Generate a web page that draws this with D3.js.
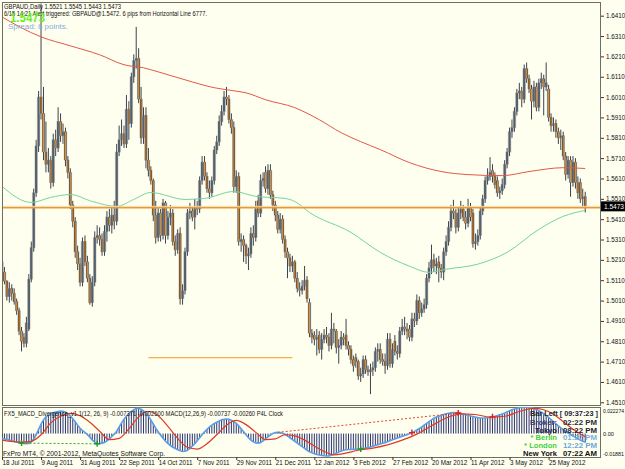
<!DOCTYPE html>
<html>
<head>
<meta charset="utf-8">
<script src="https://cdn.jsdelivr.net/npm/d3@7/dist/d3.min.js"></script>
<style>
  body { margin: 0; background: #fffff0; }
  svg { display: block; font-family: "Liberation Sans", Arial, sans-serif; }
</style>
</head>
<body>
<div id="container"></div>
<script>
// ---- data: GBPAUD daily, 18 Jul 2011 .. 15 Jun 2012 (bar index 0..239)
const opens = [1.5115,1.5150,1.5105,1.5030,1.5070,1.5045,1.5005,1.4960,1.4860,1.4830,1.4800,1.4870,1.5115,1.5270,1.5540,1.5770,1.6010,1.5930,1.5740,1.5680,
1.5700,1.5590,1.5800,1.5760,1.5890,1.5820,1.5840,1.5700,1.5640,1.5480,1.5400,1.5250,1.5190,1.5100,1.5300,1.5200,1.5120,1.5000,1.5100,1.5320,
1.5330,1.5310,1.5250,1.5350,1.5420,1.5380,1.5430,1.5400,1.5740,1.5800,1.5830,1.5780,1.5950,1.5880,1.6110,1.6190,1.6200,1.6000,1.5810,1.5920,
1.5700,1.5650,1.5600,1.5430,1.5320,1.5440,1.5330,1.5490,1.5330,1.5420,1.5440,1.5300,1.5260,1.5340,1.5020,1.5060,1.5250,1.5440,1.5450,1.5420,
1.5470,1.5460,1.5600,1.5690,1.5620,1.5560,1.5540,1.5600,1.5750,1.5790,1.5890,1.5940,1.6010,1.6000,1.5900,1.5860,1.5570,1.5620,1.5300,1.5310,
1.5280,1.5230,1.5240,1.5340,1.5320,1.5500,1.5440,1.5600,1.5640,1.5560,1.5650,1.5530,1.5480,1.5430,1.5360,1.5410,1.5310,1.5250,1.5220,1.5180,
1.5200,1.5120,1.5070,1.5060,1.5080,1.5110,1.5000,1.4850,1.4840,1.4820,1.4840,1.4770,1.4820,1.4840,1.4830,1.4790,1.4870,1.4860,1.4780,1.4790,
1.4830,1.4840,1.4790,1.4770,1.4720,1.4730,1.4710,1.4640,1.4650,1.4720,1.4670,1.4660,1.4670,1.4680,1.4760,1.4770,1.4720,1.4710,1.4690,1.4820,
1.4700,1.4810,1.4760,1.4750,1.4860,1.4880,1.4870,1.4870,1.4830,1.4920,1.4910,1.5010,1.4950,1.4970,1.4990,1.5120,1.5170,1.5210,1.5180,1.5200,
1.5170,1.5150,1.5250,1.5300,1.5370,1.5450,1.5440,1.5370,1.5440,1.5460,1.5420,1.5390,1.5470,1.5440,1.5290,1.5300,1.5330,1.5450,1.5510,1.5600,
1.5620,1.5650,1.5620,1.5600,1.5540,1.5550,1.5580,1.5680,1.5740,1.5840,1.5860,1.5940,1.6030,1.6040,1.6000,1.6150,1.6100,1.6050,1.5990,1.6060,
1.5960,1.6080,1.6100,1.6060,1.6050,1.5910,1.5870,1.5880,1.5840,1.5810,1.5820,1.5720,1.5630,1.5700,1.5590,1.5690,1.5590,1.5590,1.5510,1.5521];
const highs = [1.5215,1.5175,1.5110,1.5100,1.5090,1.5070,1.5020,1.4975,1.4880,1.4850,1.4930,1.5140,1.5300,1.5560,1.5800,1.6040,1.6470,1.6060,1.5890,1.5760,
1.5720,1.5830,1.5850,1.5960,1.5930,1.5880,1.5860,1.5720,1.5660,1.5500,1.5420,1.5280,1.5220,1.5320,1.5330,1.5230,1.5140,1.5130,1.5350,1.5380,
1.5370,1.5340,1.5380,1.5450,1.5460,1.5470,1.5500,1.5780,1.5870,1.5900,1.5870,1.6020,1.5990,1.6130,1.6220,1.6355,1.6250,1.6060,1.5960,1.5960,
1.5760,1.5670,1.5610,1.5500,1.5470,1.5460,1.5510,1.5500,1.5450,1.5480,1.5460,1.5330,1.5360,1.5370,1.5090,1.5270,1.5460,1.5490,1.5470,1.5510,
1.5500,1.5620,1.5720,1.5720,1.5640,1.5600,1.5620,1.5770,1.5820,1.5920,1.5970,1.6040,1.6060,1.6020,1.5930,1.5890,1.5650,1.5640,1.5340,1.5330,
1.5290,1.5270,1.5370,1.5380,1.5500,1.5530,1.5630,1.5640,1.5670,1.5680,1.5680,1.5550,1.5500,1.5450,1.5440,1.5430,1.5330,1.5270,1.5240,1.5230,
1.5210,1.5150,1.5100,1.5110,1.5180,1.5130,1.5020,1.4870,1.4860,1.4870,1.4860,1.4850,1.4870,1.4880,1.4850,1.4950,1.4900,1.4870,1.4820,1.4860,
1.4850,1.4920,1.4810,1.4790,1.4740,1.4750,1.4720,1.4680,1.4740,1.4740,1.4690,1.4700,1.4710,1.4780,1.4800,1.4800,1.4750,1.4750,1.4850,1.4850,
1.4800,1.4840,1.4790,1.4880,1.4920,1.4930,1.4900,1.4890,1.4950,1.4950,1.5040,1.5030,1.5000,1.5020,1.5140,1.5200,1.5285,1.5240,1.5220,1.5230,
1.5190,1.5270,1.5330,1.5400,1.5480,1.5505,1.5460,1.5470,1.5500,1.5480,1.5450,1.5510,1.5490,1.5460,1.5340,1.5360,1.5470,1.5530,1.5620,1.5660,
1.5715,1.5680,1.5640,1.5620,1.5570,1.5610,1.5700,1.5760,1.5860,1.5900,1.5960,1.6050,1.6080,1.6060,1.6170,1.6180,1.6120,1.6070,1.6090,1.6080,
1.6100,1.6130,1.6120,1.6180,1.6070,1.5930,1.5910,1.5900,1.5860,1.5850,1.5840,1.5740,1.5720,1.5720,1.5720,1.5710,1.5620,1.5610,1.5560,1.5545];
const lows = [1.5050,1.5090,1.5010,1.5000,1.5010,1.4990,1.4940,1.4840,1.4760,1.4780,1.4780,1.4860,1.5100,1.5250,1.5520,1.5740,1.5900,1.5700,1.5640,1.5640,
1.5560,1.5570,1.5720,1.5740,1.5790,1.5780,1.5670,1.5610,1.5460,1.5370,1.5220,1.5160,1.5080,1.5080,1.5180,1.5100,1.4990,1.4980,1.5080,1.5290,
1.5280,1.5230,1.5230,1.5300,1.5350,1.5340,1.5360,1.5380,1.5720,1.5770,1.5760,1.5760,1.5800,1.5860,1.6080,1.6150,1.5980,1.5780,1.5780,1.5660,
1.5620,1.5580,1.5400,1.5290,1.5300,1.5300,1.5310,1.5290,1.5310,1.5380,1.5280,1.5230,1.5240,1.4990,1.4990,1.5040,1.5230,1.5410,1.5400,1.5360,
1.5430,1.5440,1.5580,1.5600,1.5540,1.5510,1.5520,1.5580,1.5730,1.5770,1.5870,1.5920,1.5970,1.5880,1.5830,1.5540,1.5540,1.5280,1.5250,1.5200,
1.5190,1.5160,1.5220,1.5280,1.5300,1.5420,1.5420,1.5570,1.5540,1.5530,1.5510,1.5450,1.5400,1.5340,1.5340,1.5290,1.5220,1.5120,1.5150,1.5150,
1.5100,1.5050,1.5030,1.5040,1.5060,1.5000,1.4830,1.4800,1.4790,1.4740,1.4750,1.4720,1.4800,1.4800,1.4760,1.4770,1.4800,1.4750,1.4700,1.4770,
1.4790,1.4770,1.4740,1.4700,1.4660,1.4680,1.4620,1.4610,1.4630,1.4650,1.4640,1.4550,1.4640,1.4660,1.4710,1.4700,1.4690,1.4650,1.4670,1.4680,
1.4680,1.4740,1.4720,1.4730,1.4840,1.4840,1.4820,1.4810,1.4810,1.4880,1.4890,1.4920,1.4930,1.4950,1.4970,1.5100,1.5140,1.5150,1.5140,1.5100,
1.5120,1.5110,1.5230,1.5280,1.5350,1.5410,1.5340,1.5350,1.5410,1.5400,1.5360,1.5370,1.5400,1.5270,1.5260,1.5280,1.5310,1.5430,1.5490,1.5580,
1.5600,1.5590,1.5560,1.5520,1.5510,1.5530,1.5560,1.5660,1.5720,1.5810,1.5840,1.5920,1.6000,1.5960,1.5980,1.6080,1.6030,1.5900,1.5960,1.5940,
1.5940,1.6050,1.5920,1.6040,1.5890,1.5840,1.5840,1.5810,1.5780,1.5750,1.5700,1.5600,1.5610,1.5520,1.5570,1.5560,1.5510,1.5490,1.5470,1.5443];
const closes = [1.5200,1.5105,1.5030,1.5070,1.5045,1.5005,1.4960,1.4860,1.4810,1.4800,1.4900,1.5115,1.5270,1.5540,1.5770,1.6010,1.5930,1.5740,1.5680,1.5700,
1.5590,1.5800,1.5760,1.5890,1.5820,1.5840,1.5700,1.5640,1.5480,1.5400,1.5250,1.5190,1.5100,1.5300,1.5200,1.5120,1.5000,1.5100,1.5320,1.5330,
1.5310,1.5250,1.5350,1.5420,1.5380,1.5430,1.5400,1.5740,1.5800,1.5830,1.5780,1.5950,1.5880,1.6110,1.6190,1.6200,1.6000,1.5810,1.5920,1.5700,
1.5650,1.5600,1.5430,1.5320,1.5440,1.5330,1.5490,1.5330,1.5420,1.5440,1.5300,1.5260,1.5340,1.5020,1.5060,1.5250,1.5440,1.5450,1.5420,1.5470,
1.5460,1.5600,1.5690,1.5620,1.5560,1.5540,1.5600,1.5750,1.5790,1.5890,1.5940,1.6010,1.6000,1.5900,1.5860,1.5570,1.5620,1.5300,1.5310,1.5280,
1.5230,1.5240,1.5340,1.5320,1.5460,1.5440,1.5600,1.5610,1.5560,1.5650,1.5530,1.5480,1.5430,1.5360,1.5410,1.5310,1.5250,1.5220,1.5180,1.5200,
1.5120,1.5070,1.5060,1.5080,1.5110,1.5020,1.4850,1.4830,1.4820,1.4830,1.4770,1.4820,1.4840,1.4830,1.4790,1.4870,1.4860,1.4780,1.4790,1.4830,
1.4820,1.4790,1.4770,1.4720,1.4690,1.4710,1.4640,1.4650,1.4720,1.4670,1.4660,1.4670,1.4680,1.4760,1.4770,1.4720,1.4710,1.4690,1.4820,1.4700,
1.4770,1.4760,1.4750,1.4860,1.4880,1.4870,1.4860,1.4830,1.4920,1.4910,1.5010,1.4950,1.4970,1.4990,1.5120,1.5170,1.5210,1.5180,1.5190,1.5170,
1.5150,1.5250,1.5300,1.5370,1.5450,1.5440,1.5370,1.5440,1.5460,1.5420,1.5390,1.5470,1.5420,1.5290,1.5300,1.5330,1.5450,1.5510,1.5600,1.5620,
1.5640,1.5620,1.5580,1.5540,1.5550,1.5580,1.5680,1.5740,1.5840,1.5860,1.5940,1.6030,1.6040,1.6000,1.6150,1.6100,1.6050,1.5990,1.6060,1.5960,
1.6080,1.6100,1.6060,1.6080,1.5910,1.5870,1.5880,1.5840,1.5810,1.5820,1.5720,1.5630,1.5700,1.5590,1.5690,1.5590,1.5540,1.5510,1.5520,1.5473];

// moving averages, read at sample bars: [bar, price]
const maRed = [[0,1.6404],[8,1.6350],[16,1.6306],[28,1.6262],[40,1.6218],[50,1.6169],[58,1.6154],[64,1.6134],[75,1.6095],[87,1.6056],
  [95,1.6041],[100,1.6031],[108,1.5997],[120,1.5958],[130,1.5899],[139,1.5835],[147,1.5791],[155,1.5752],[167,1.5688],[180,1.5644],
  [191,1.5629],[205,1.5624],[216,1.5644],[230,1.5663],[239,1.5659]];
const maGreen = [[0,1.5571],[12,1.5492],[20,1.5517],[28,1.5531],[37,1.5497],[47,1.5473],[54,1.5507],[61,1.5541],[75,1.5507],[83,1.5512],
  [95,1.5546],[104,1.5522],[116,1.5512],[120,1.5497],[126,1.5443],[143,1.5345],[155,1.5247],[167,1.5179],[175,1.5149],[182,1.5164],
  [195,1.5189],[207,1.5247],[220,1.5360],[230,1.5424],[239,1.5453]];

const bidPrice = 1.5473;
const hLinePrice = 1.5466;
const lowLine = { from: 60, to: 119, price: 1.4729 };

// MACD(12,26,9) in units of 0.0001, one per bar
const macd = [-40,-45,-50,-55,-60,-65,-70,-76,-80,-83,-84,-82,-72,-45,-10,35,80,115,140,155,
165,175,180,185,188,186,180,170,150,125,100,70,45,25,10,-10,-30,-55,-72,-86,
-84,-80,-74,-62,-45,-25,-5,20,55,90,120,145,165,185,200,210,212,205,190,170,
145,115,80,45,15,-15,-40,-65,-85,-100,-115,-125,-135,-145,-150,-148,-140,-125,-105,-85,
-60,-35,-10,15,35,55,70,85,95,105,115,120,122,120,112,100,85,65,40,15,
-10,-35,-55,-70,-78,-80,-75,-62,-45,-28,-12,0,8,10,8,2,-8,-20,-35,-50,
-65,-80,-95,-110,-125,-140,-152,-162,-170,-176,-180,-184,-186,-188,-187,-182,-174,-165,-155,-146,
-140,-136,-134,-133,-132,-131,-130,-129,-126,-122,-117,-112,-106,-100,-94,-88,-82,-76,-68,-60,
-52,-45,-38,-30,-23,-16,-9,-2,8,18,30,42,55,70,85,100,115,128,138,146,
153,160,166,171,175,176,175,172,168,163,158,153,148,143,138,134,131,130,131,133,
136,140,145,151,158,165,173,182,191,199,206,212,217,220,222,222,220,216,210,202,
192,180,166,151,135,118,100,82,64,47,32,18,5,-8,-20,-32,-44,-55,-65,-74];
// signal line, read at sample bars: [bar, value*1e4]
const signal = [[0,-55],[8,-72],[12,-65],[16,-10],[20,90],[24,145],[28,170],[32,150],[36,95],[40,20],[44,-50],[48,-40],
  [52,40],[56,140],[60,185],[64,150],[68,60],[72,-40],[76,-115],[80,-130],[84,-85],[88,-10],[92,70],[96,110],[100,75],
  [104,10],[108,-50],[112,-45],[116,-10],[120,-20],[124,-55],[128,-105],[132,-150],[136,-178],[140,-168],[146,-140],
  [152,-122],[158,-95],[164,-55],[170,-5],[176,65],[182,130],[188,165],[194,160],[200,138],[206,145],[212,185],[218,212],
  [222,200],[226,162],[230,100],[234,36],[239,-26]];
const bullDivBars = [8, 39, 147];
const bearDivBars = [168, 187, 201];
const bullDivLines = [[8, 39]];
const bearDivLines = [[113, 187]];

const priceTicks = [1.6410,1.6310,1.6210,1.6110,1.6010,1.5910,1.5810,1.5710,1.5610,1.5510,
  1.5410,1.5310,1.5210,1.5110,1.5010,1.4910,1.4810,1.4710,1.4610,1.4510];
const macdTicks = [0.022274, 0, -0.01881];
const macdTickLabels = ["0.022274", "0.00", "-0.01881"];
const dateBars = [0,16,32,48,64,80,96,112,128,144,160,176,192,208,224];
const dateLabels = ["18 Jul 2011","9 Aug 2011","31 Aug 2011","22 Sep 2011","14 Oct 2011","7 Nov 2011","29 Nov 2011",
  "21 Dec 2011","12 Jan 2012","3 Feb 2012","27 Feb 2012","20 Mar 2012","11 Apr 2012","3 May 2012","25 May 2012"];

const clockRows = [
  { label: "Broker:", time: "02:22 PM", lc: "#3b3b6e", tc: "#2a2a40" },
  { label: "Tokyo", time: "08:22 PM", lc: "#1c1c48", tc: "#1c1c30" },
  { label: "* Berlin", time: "01:22 PM", lc: "#3fcf3f", tc: "#7aaee0" },
  { label: "* London", time: "12:22 PM", lc: "#3fcf3f", tc: "#6aa6e0" },
  { label: "New York", time: "07:22 AM", lc: "#111", tc: "#111" }
];

// ---- canvas
const width = 625, height = 469;
const svg = d3.select("#container").append("svg")
  .attr("width", width).attr("height", height);
svg.append("rect").attr("width", width).attr("height", height).attr("fill", "#fffff0");

const left = 2, right = 601, mainTop = 2, mainBottom = 405, subTop = 407, subBottom = 457;

// scales
const x = d3.scaleLinear().domain([0, 239]).range([2, 585.2]);
const y = d3.scaleLinear().domain([1.4510, 1.6410]).range([402.3, 15.7]);
const ym = d3.scaleLinear().domain([-0.01881, 0.022274]).range([subBottom - 1, subTop]);

const defs = svg.append("defs");
defs.append("clipPath").attr("id", "clipMain").append("rect")
  .attr("x", left).attr("y", mainTop).attr("width", right - left).attr("height", mainBottom - mainTop);
defs.append("clipPath").attr("id", "clipSub").append("rect")
  .attr("x", left).attr("y", subTop).attr("width", right - left).attr("height", subBottom - subTop);

// ---- main window
const gMain = svg.append("g").attr("clip-path", "url(#clipMain)");

const bars = closes.map((c, i) => ({ i: i, o: opens[i], h: highs[i], l: lows[i], c: c }));

const cg = gMain.selectAll("g.candle").data(bars).join("g").attr("class", "candle");
// light grey shadow behind each body
cg.append("rect")
  .attr("x", d => x(d.i) - 1.8).attr("width", 3.6)
  .attr("y", d => y(Math.max(d.o, d.c)) - 0.5)
  .attr("height", d => Math.max(1, Math.abs(y(d.o) - y(d.c))) + 1)
  .attr("fill", "#b6b8b2").attr("opacity", 0.6);
cg.append("line")
  .attr("x1", d => x(d.i)).attr("x2", d => x(d.i))
  .attr("y1", d => y(d.h)).attr("y2", d => y(d.l))
  .attr("stroke", "#3b424b").attr("stroke-width", 1);
cg.append("rect")
  .attr("x", d => x(d.i) - 1.1).attr("width", 2.2)
  .attr("y", d => y(Math.max(d.o, d.c)))
  .attr("height", d => Math.max(1, Math.abs(y(d.o) - y(d.c))))
  .attr("fill", d => d.c >= d.o ? "#56606c" : "#3a3632");
cg.filter(d => d.c < d.o).append("rect")
  .attr("x", d => x(d.i) - 0.5).attr("width", 1)
  .attr("y", d => y(d.o)).attr("height", d => Math.max(1, y(d.c) - y(d.o)))
  .attr("fill", "#ea9432");

const maLine = d3.line().x(d => x(d[0])).y(d => y(d[1])).curve(d3.curveMonotoneX);
gMain.append("path").datum(maRed).attr("d", maLine)
  .attr("fill", "none").attr("stroke", "#e2574a").attr("stroke-width", 1);
gMain.append("path").datum(maGreen).attr("d", maLine)
  .attr("fill", "none").attr("stroke", "#74d3a0").attr("stroke-width", 1);

// bid line + horizontal line objects
gMain.append("line").attr("x1", left).attr("x2", right)
  .attr("y1", y(bidPrice)).attr("y2", y(bidPrice))
  .attr("stroke", "#e6d9c0").attr("stroke-width", 1);
gMain.append("line").attr("x1", left).attr("x2", right)
  .attr("y1", y(hLinePrice)).attr("y2", y(hLinePrice))
  .attr("stroke", "#f39a1e").attr("stroke-width", 1.6);
gMain.append("line").attr("x1", x(lowLine.from)).attr("x2", x(lowLine.to))
  .attr("y1", y(lowLine.price)).attr("y2", y(lowLine.price))
  .attr("stroke", "#f39a1e").attr("stroke-width", 1);

// price axis
const yAxis = d3.axisRight(y).tickValues(priceTicks).tickFormat(d3.format(".4f")).tickSize(3);
const yg = svg.append("g").attr("transform", `translate(${right},0)`).call(yAxis);
yg.select(".domain").remove();
yg.selectAll("line").attr("stroke", "#333");
yg.selectAll("text").attr("x", 5).attr("font-size", 6.3).attr("fill", "#111")
  .attr("font-family", "'Liberation Sans', Arial, sans-serif");

// current price box
svg.append("rect").attr("x", right).attr("y", y(bidPrice) - 5).attr("width", 24).attr("height", 10).attr("fill", "#000");
svg.append("text").attr("x", right + 3).attr("y", y(bidPrice) + 2.4)
  .attr("font-size", 6.5).attr("fill", "#fff").text(d3.format(".4f")(bidPrice));

// frames
svg.append("rect").attr("x", left + 0.5).attr("y", mainTop + 0.5)
  .attr("width", right - left - 1).attr("height", mainBottom - mainTop)
  .attr("fill", "none").attr("stroke", "#6e6e62");
svg.append("rect").attr("x", left + 0.5).attr("y", subTop + 0.5)
  .attr("width", right - left - 1).attr("height", subBottom - subTop)
  .attr("fill", "none").attr("stroke", "#6e6e62");

// header texts
const head = svg.append("g").attr("font-family", "'Liberation Sans', Arial, sans-serif");
head.append("text").attr("x", 4).attr("y", 8.6).attr("font-size", 7).attr("fill", "#111")
  .attr("textLength", 117).attr("lengthAdjust", "spacingAndGlyphs")
  .text("GBPAUD,Daily  1.5521 1.5545 1.5443 1.5473");
head.append("text").attr("x", 4).attr("y", 16).attr("font-size", 7).attr("fill", "#111")
  .attr("textLength", 203).attr("lengthAdjust", "spacingAndGlyphs")
  .text("6/15 14:21 Alert triggered: GBPAUD@1.5472.  6 pips from Horizontal Line 6777.");
head.append("text").attr("x", 10).attr("y", 21.5).attr("font-size", 12).attr("font-weight", "bold")
  .attr("fill", "#66ee22").attr("textLength", 35).attr("lengthAdjust", "spacingAndGlyphs")
  .text("1.5473");
head.append("text").attr("x", 8).attr("y", 28.5).attr("font-size", 8).attr("fill", "#86acd8")
  .attr("textLength", 60).attr("lengthAdjust", "spacingAndGlyphs")
  .text("Spread: 6 points.");

// ---- MACD window
const gSub = svg.append("g").attr("clip-path", "url(#clipSub)");
const macdBars = macd.map((v, i) => ({ i: i, v: v / 1e4 }));
gSub.selectAll("line.hist").data(macdBars).join("line").attr("class", "hist")
  .attr("x1", d => x(d.i)).attr("x2", d => x(d.i))
  .attr("y1", ym(0)).attr("y2", d => ym(d.v))
  .attr("stroke", "#2a3574").attr("stroke-width", 1);

const macdLine = d3.line().x(d => x(d.i)).y(d => ym(d.v));
gSub.append("path").datum(macdBars).attr("d", macdLine)
  .attr("fill", "none").attr("stroke", "#5b9ee6").attr("stroke-width", 1.6);

const sigLine = d3.line().x(d => x(d[0])).y(d => ym(d[1] / 1e4)).curve(d3.curveMonotoneX);
gSub.append("path").datum(signal).attr("d", sigLine)
  .attr("fill", "none").attr("stroke", "#e03a24").attr("stroke-width", 1.2);

// divergence lines and marks
bullDivLines.forEach(p => {
  gSub.append("line").attr("x1", x(p[0])).attr("x2", x(p[1]))
    .attr("y1", ym(macd[p[0]] / 1e4)).attr("y2", ym(macd[p[1]] / 1e4))
    .attr("stroke", "#2fa52f").attr("stroke-width", 1).attr("stroke-dasharray", "2,2");
});
bearDivLines.forEach(p => {
  gSub.append("line").attr("x1", x(p[0])).attr("x2", x(p[1]))
    .attr("y1", ym(macd[p[0]] / 1e4)).attr("y2", ym(macd[p[1]] / 1e4))
    .attr("stroke", "#e8402a").attr("stroke-width", 1).attr("stroke-dasharray", "2,2");
});
function cross(bar, color) {
  const cx = x(bar), cy = ym(macd[bar] / 1e4);
  gSub.append("path").attr("d", `M${cx - 3},${cy}H${cx + 3}M${cx},${cy - 3}V${cy + 3}`)
    .attr("stroke", color).attr("stroke-width", 1.4);
}
bullDivBars.forEach(b => cross(b, "#1f9a1f"));
bearDivBars.forEach(b => cross(b, "#e02020"));

// sub-window texts
svg.append("text").attr("x", 4).attr("y", 415.5).attr("font-size", 6.5).attr("fill", "#111")
  .attr("textLength", 279).attr("lengthAdjust", "spacingAndGlyphs")
  .text("FX5_MACD_Divergence_v1.1(12, 26, 9) -0.007371 -0.002600  MACD(12,26,9) -0.00737 -0.00260  P4L Clock");
svg.append("text").attr("x", 3).attr("y", 455.5).attr("font-size", 7).attr("fill", "#111")
  .attr("textLength", 162).attr("lengthAdjust", "spacingAndGlyphs")
  .text("FxPro MT4, \u00a9 2001-2012, MetaQuotes Software Corp.");

// clock block
const clock = svg.append("g").attr("font-weight", "bold").attr("font-size", 7.6);
clock.append("text").attr("x", 598).attr("y", 416).attr("text-anchor", "end").attr("fill", "#22223a")
  .attr("textLength", 68).attr("lengthAdjust", "spacingAndGlyphs").text("Bar Left [ 09:37:23 ]");
clockRows.forEach((r, k) => {
  const by = 424.8 + k * 7.8;
  clock.append("text").attr("x", 557).attr("y", by).attr("text-anchor", "end").attr("fill", r.lc).text(r.label);
  clock.append("text").attr("x", 597).attr("y", by).attr("text-anchor", "end").attr("fill", r.tc)
    .attr("textLength", 34).attr("lengthAdjust", "spacingAndGlyphs").text(r.time);
});

// macd axis
const mAxis = d3.axisRight(ym).tickValues(macdTicks).tickFormat((d, i) => macdTickLabels[i]).tickSize(0);
const mg = svg.append("g").attr("transform", `translate(${right},0)`).call(mAxis);
mg.select(".domain").remove();
mg.selectAll("text").attr("x", 2).attr("font-size", 5.6).attr("fill", "#111")
  .attr("font-family", "'Liberation Sans', Arial, sans-serif")
  .attr("textLength", (d, i) => i === 1 ? null : 21).attr("lengthAdjust", "spacingAndGlyphs")
  .attr("dy", (d, i) => i === 0 ? "0.9em" : (i === 2 ? "-0.1em" : "0.32em"));

// date axis
const xAxis = d3.axisBottom(x).tickValues(dateBars).tickFormat((d, i) => dateLabels[i]).tickSize(3);
const xg = svg.append("g").attr("transform", `translate(0,${subBottom})`).call(xAxis);
xg.select(".domain").remove();
xg.selectAll("line").attr("stroke", "#333");
xg.selectAll("text").attr("text-anchor", "start").attr("x", 0).attr("y", 4).attr("dy", "0.71em")
  .attr("font-size", 6.3).attr("fill", "#111").attr("font-family", "'Liberation Sans', Arial, sans-serif");
</script>
</body>
</html>
